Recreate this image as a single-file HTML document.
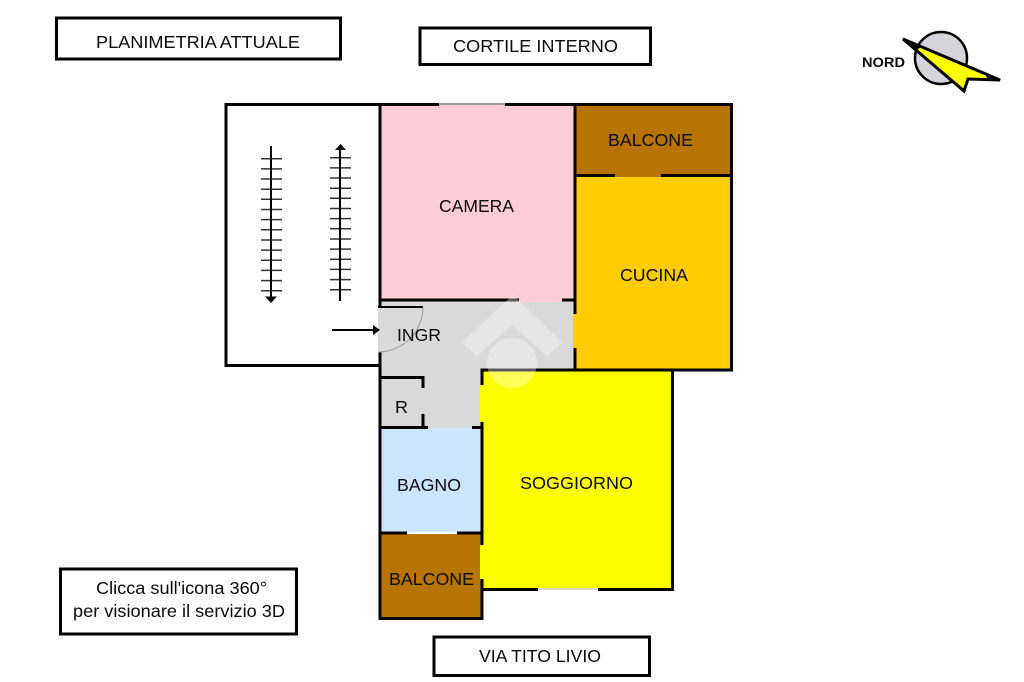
<!DOCTYPE html>
<html>
<head>
<meta charset="utf-8">
<style>
html,body{margin:0;padding:0;background:#fff;}
svg{display:block;filter:blur(.3px);}
text{font-family:"Liberation Sans",Arial,sans-serif;font-size:17.500px;fill:#0a0a0a;}
</style>
</head>
<body>
<svg xmlns="http://www.w3.org/2000/svg" width="1024" height="682" viewBox="0 0 1024 682">
<rect width="1024" height="682" fill="#fff"/>

<!-- label boxes -->
<g fill="none" stroke="#000" stroke-width="3">
<rect x="56.500" y="18" width="284" height="41"/>
<rect x="420" y="28" width="230.500" height="36.500"/>
<rect x="60.500" y="569" width="236" height="65"/>
<rect x="434" y="637" width="215.500" height="38.500"/>
</g>

<!-- room fills -->
<rect x="380" y="104" width="195" height="196" fill="#FFCCD5"/>
<rect x="575" y="175" width="156" height="195" fill="#FFCC00"/>
<rect x="575" y="104" width="156" height="71" fill="#B87400"/>
<rect x="615" y="174" width="46" height="3" fill="#B87400"/>
<polygon points="380,300 575,300 575,370 481,370 481,428 380,428" fill="#D9D9D9"/>
<rect x="380" y="428" width="101" height="105" fill="#CCE5FF"/>
<rect x="380" y="533" width="101" height="85" fill="#B87400"/>
<rect x="481" y="370" width="191" height="219" fill="#FFFF00"/>
<rect x="519" y="298" width="43" height="4" fill="#FFCCD5"/>
<rect x="573" y="314" width="4" height="34" fill="#FFCC00"/>
<rect x="480" y="545" width="3" height="34" fill="#FFFF00"/>
<rect x="480" y="385" width="3" height="37" fill="#FFFF00"/>
<rect x="378" y="307" width="3" height="45" fill="#D9D9D9"/>

<!-- walls -->
<g stroke="#000" stroke-width="3" fill="none">
<path d="M226,104.500H439M505,104.500H731.500V370H575"/>
<path d="M226,103V365.500H380"/>
<path d="M380,104V307M380,352V618.500H482V579M482,545V422M482,385V370H672.500V589.500H598M538,589.500H482"/>
<path d="M575,104V314M575,348V370"/>
<path d="M575,175.500H615M661,175.500H731"/>
<path d="M380,300H519M562,300H575"/>
<path d="M380,377.500H423V388M423,414V428M380,427.500H428M472,427.500H481"/>
<path d="M380,533H407M457,533H481"/>
</g>
<path d="M439,104H505" stroke="#9a9a9a" stroke-width="2" fill="none"/>
<rect x="407" y="532" width="50" height="2" fill="#fff"/>
<rect x="538" y="588" width="60" height="2" fill="#d8d8c0"/>

<!-- door -->
<path d="M378,307H423" stroke="#000" stroke-width="2" fill="none"/>
<path d="M423,307A45,45 0 0 1 378,352" stroke="#999" stroke-width="1" fill="none"/>

<!-- stairs -->
<g stroke="#333" stroke-width="1.500" fill="none">
<path d="M261,158.700H282M261,168.900H282M261,179H282M261,189.200H282M261,199.300H282M261,209.500H282M261,219.600H282M261,229.800H282M261,240H282M261,250.100H282M261,260.300H282M261,270.400H282M261,280.600H282M261,290.800H282"/>
<path d="M330,157.700H351M330,167.900H351M330,178H351M330,188.200H351M330,198.300H351M330,208.500H351M330,218.600H351M330,228.800H351M330,239H351M330,249.100H351M330,259.300H351M330,269.400H351M330,279.600H351M330,289.800H351"/>
</g>
<g stroke="#000" stroke-width="2" fill="none">
<path d="M271,146V297M340,150V301M332,330H374"/>
</g>
<polygon points="265,296.500 277,296.500 271,303" fill="#000"/>
<polygon points="335,150 346,150 340.500,144" fill="#000"/>
<polygon points="373,325 380,330 373,335" fill="#000"/>

<!-- watermark -->
<g fill="#fff" opacity="0.35">
<polygon points="513,295 562,342 547,356 512,325 477,356 462,342"/>
<circle cx="512" cy="363" r="25"/>
</g>

<!-- compass -->
<circle cx="941" cy="58" r="26" fill="#D4D4DA" stroke="#000" stroke-width="2.500"/>
<polygon points="903,39 1000,80 968,79 964,91" fill="#FFFF00" stroke="#000" stroke-width="3" stroke-linejoin="miter"/>
<polygon points="902,38 922,46 917,50" fill="#000"/>
<polygon points="1001,80 985,74 988,79.500" fill="#000"/>

<!-- labels -->
<text x="96" y="48" textLength="204" lengthAdjust="spacingAndGlyphs">PLANIMETRIA ATTUALE</text>
<text x="453" y="52" textLength="165" lengthAdjust="spacingAndGlyphs">CORTILE INTERNO</text>
<text x="96" y="594" textLength="171" lengthAdjust="spacingAndGlyphs">Clicca sull'icona 360°</text>
<text x="73" y="617" textLength="212" lengthAdjust="spacingAndGlyphs">per visionare il servizio 3D</text>
<text x="479" y="662" textLength="122" lengthAdjust="spacingAndGlyphs">VIA TITO LIVIO</text>
<text x="862" y="67" textLength="43" lengthAdjust="spacingAndGlyphs" style="font-size:14px;font-weight:bold">NORD</text>
<text x="439" y="212" textLength="75" lengthAdjust="spacingAndGlyphs">CAMERA</text>
<text x="608" y="146" textLength="85" lengthAdjust="spacingAndGlyphs">BALCONE</text>
<text x="620" y="281" textLength="68" lengthAdjust="spacingAndGlyphs">CUCINA</text>
<text x="397" y="341" textLength="44" lengthAdjust="spacingAndGlyphs">INGR</text>
<text x="395" y="413" textLength="13" lengthAdjust="spacingAndGlyphs">R</text>
<text x="397" y="491" textLength="64" lengthAdjust="spacingAndGlyphs">BAGNO</text>
<text x="520" y="489" textLength="113" lengthAdjust="spacingAndGlyphs">SOGGIORNO</text>
<text x="389" y="585" textLength="85" lengthAdjust="spacingAndGlyphs">BALCONE</text>
</svg>
</body>
</html>
